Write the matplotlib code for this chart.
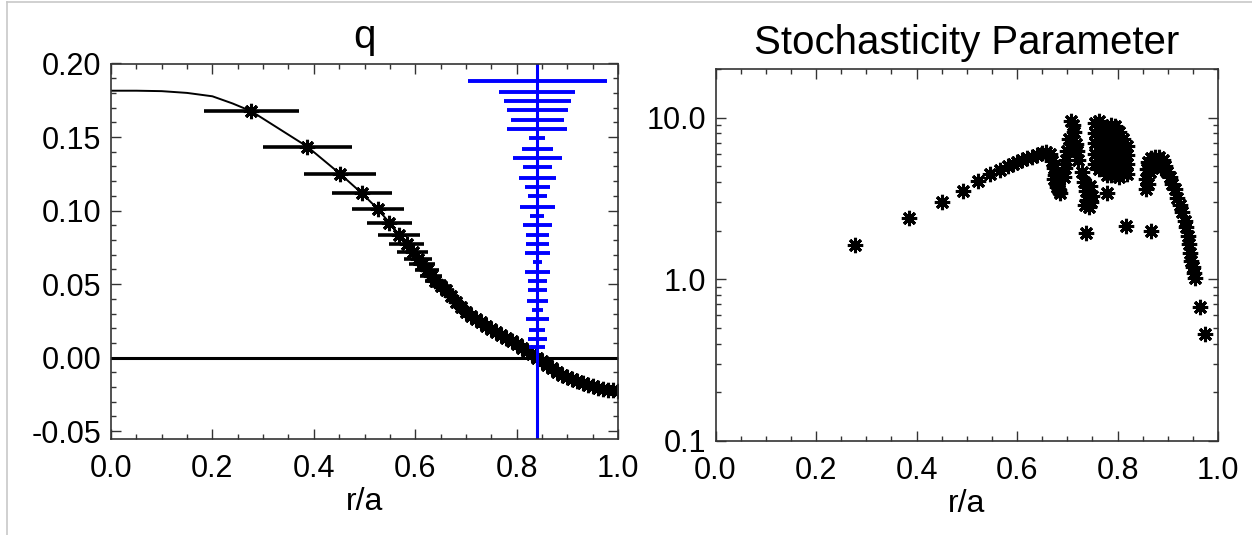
import numpy as np
import matplotlib
matplotlib.use('Agg')
import matplotlib.pyplot as plt
from matplotlib.ticker import MultipleLocator, FixedLocator, LogLocator, NullFormatter
from matplotlib.lines import Line2D

plt.rcParams['font.family'] = ['Liberation Sans', 'DejaVu Sans']

# ---- left panel: q profile ----
# smooth q line in the core (no measurement points there)
core_x = [0.0, 0.05, 0.10, 0.15, 0.20, 0.24]
core_y = [0.1815, 0.1815, 0.1812, 0.1800, 0.1777, 0.1728]

# measured points with horizontal error bars
q_x = [0.277, 0.387, 0.451, 0.495, 0.527, 0.549, 0.568, 0.583, 0.595, 0.605,
       0.614, 0.623, 0.631, 0.640, 0.650, 0.660, 0.670, 0.680, 0.690, 0.700,
       0.710, 0.720, 0.730, 0.740, 0.750, 0.760, 0.770, 0.780, 0.790, 0.800,
       0.810, 0.820, 0.830, 0.840, 0.850, 0.860, 0.870, 0.880, 0.890, 0.900,
       0.910, 0.920, 0.930, 0.940, 0.950, 0.960, 0.970, 0.980, 0.990, 1.000]
q_y = [0.1675, 0.1435, 0.1252, 0.1117, 0.1008, 0.0917, 0.0835, 0.0772, 0.0721, 0.0672,
       0.0635, 0.0595, 0.0557, 0.0523, 0.0490, 0.0457, 0.0420, 0.0380, 0.0345, 0.0310,
       0.0285, 0.0262, 0.0240, 0.0215, 0.0192, 0.0172, 0.0152, 0.0132, 0.0112, 0.0090,
       0.0068, 0.0045, 0.0022, 0.0000, -0.0025, -0.0050, -0.0072, -0.0095, -0.0115, -0.0132,
       -0.0148, -0.0162, -0.0174, -0.0185, -0.0195, -0.0204, -0.0212, -0.0218, -0.0223, -0.0226]
q_err = [0.094, 0.088, 0.071, 0.059, 0.051, 0.045, 0.041, 0.035, 0.031, 0.028,
         0.026, 0.024, 0.022, 0.020, 0.018, 0.016, 0.014, 0.012, 0.011, 0.010,
         0.009, 0.008, 0.008, 0.007, 0.007, 0.006, 0.006, 0.006, 0.005, 0.005,
         0.005, 0.005, 0.005, 0.005, 0.005, 0.005, 0.005, 0.005, 0.005, 0.005,
         0.005, 0.005, 0.005, 0.005, 0.005, 0.005, 0.005, 0.005, 0.005, 0.005]

# q=0 location and the spread (blue bars)
q0_x = 0.841
blue_y = [0.1880, 0.1806, 0.1745, 0.1684, 0.1613, 0.1552, 0.1491, 0.1419, 0.1356, 0.1295,
          0.1223, 0.1162, 0.1101, 0.1027, 0.0966, 0.0905, 0.0836, 0.0772, 0.0711, 0.0651,
          0.0579, 0.0518, 0.0457, 0.0385, 0.0324, 0.0264, 0.0191, 0.0130, 0.0069]
blue_hw = [0.137, 0.075, 0.066, 0.060, 0.052, 0.059, 0.016, 0.030, 0.049, 0.028,
           0.037, 0.024, 0.019, 0.034, 0.014, 0.029, 0.022, 0.022, 0.025, 0.009,
           0.025, 0.019, 0.019, 0.020, 0.011, 0.022, 0.016, 0.019, 0.016]

# ---- right panel: stochasticity parameter ----
s_x = [0.277, 0.386, 0.450, 0.492, 0.523, 0.546, 0.566, 0.583, 0.592, 0.600,
       0.610, 0.620, 0.630, 0.640, 0.650, 0.658, 0.665, 0.670, 0.674, 0.676,
       0.680, 0.684, 0.685, 0.673, 0.679,
       0.707, 0.711, 0.713, 0.703, 0.707, 0.717, 0.700, 0.710, 0.697, 0.695,
       0.693, 0.720, 0.722,
       0.730, 0.733, 0.737, 0.740, 0.735, 0.743, 0.747, 0.750, 0.745, 0.738,
       0.755, 0.755, 0.755, 0.755, 0.755,
       0.763, 0.763, 0.763, 0.763, 0.763, 0.763,
       0.771, 0.771, 0.771, 0.771, 0.771,
       0.779, 0.779, 0.779, 0.779, 0.779, 0.779,
       0.787, 0.787, 0.787, 0.787, 0.787, 0.787,
       0.795, 0.795, 0.795, 0.795, 0.795, 0.795,
       0.803, 0.803, 0.803, 0.803, 0.803, 0.803,
       0.811, 0.811, 0.811, 0.811, 0.811,
       0.819, 0.819, 0.819, 0.819,
       0.780, 0.817, 0.867,
       0.857, 0.857, 0.858, 0.861, 0.867, 0.875, 0.883, 0.890, 0.861, 0.865,
       0.871, 0.879, 0.887, 0.894, 0.899, 0.904, 0.909, 0.914, 0.919, 0.924,
       0.929, 0.934, 0.937, 0.940, 0.943, 0.945, 0.947, 0.950, 0.952, 0.955,
       0.964, 0.975]
s_y = [1.62, 2.40, 2.99, 3.54, 4.08, 4.49, 4.77, 5.00, 5.15, 5.30,
       5.45, 5.60, 5.75, 5.90, 6.05, 6.10, 5.95, 5.40, 4.90, 4.40,
       3.90, 3.55, 3.40, 4.20, 3.70,
       9.6, 9.0, 8.1, 7.4, 7.0, 6.9, 6.2, 6.5, 5.5, 4.9,
       4.3, 6.2, 5.5,
       4.6, 4.0, 3.5, 3.1, 2.9, 2.8, 3.0, 3.3, 3.8, 1.93,
       9.3, 8.0, 7.0, 6.0, 5.2,
       9.5, 8.3, 7.2, 6.2, 5.4, 4.8,
       8.6, 7.5, 6.5, 5.6, 4.9,
       8.8, 7.6, 6.6, 5.8, 5.0, 4.4,
       9.0, 7.8, 6.8, 5.9, 5.1, 4.4,
       8.9, 7.7, 6.7, 5.8, 5.0, 4.4,
       8.2, 7.2, 6.3, 5.5, 4.8, 4.3,
       7.4, 6.6, 5.8, 5.1, 4.5,
       6.7, 5.9, 5.2, 4.5,
       3.4, 2.14, 1.99,
       3.6, 4.2, 4.8, 5.3, 5.6, 5.7, 5.7, 5.5, 3.9, 4.6,
       5.0, 5.1, 4.9, 5.0, 4.6, 4.3, 3.9, 3.6, 3.2, 2.9,
       2.6, 2.3, 2.1, 1.85, 1.65, 1.45, 1.3, 1.2, 1.1, 1.02,
       0.67, 0.457]

star = (8, 2, 0)
W, H = 1252, 535
fig = plt.figure(figsize=(W / 100, H / 100), dpi=100)

def px(x0, x1, y0, y1):
    return [x0 / W, 1 - y1 / H, (x1 - x0) / W, (y1 - y0) / H]

def style(ax):
    for s in ax.spines.values():
        s.set_color('#333333')
        s.set_linewidth(1.2)
    ax.tick_params(which='both', direction='in', top=True, right=True,
                   colors='#333333', labelcolor='black', labelsize=22)
    ax.tick_params(which='major', length=7, width=1.0, pad=7)
    ax.tick_params(which='minor', length=3.5, width=1.0)
    ax.tick_params(axis='x', which='major', pad=11)
    ax.set_xlim(0, 1)
    ax.xaxis.set_major_locator(MultipleLocator(0.2))
    ax.xaxis.set_minor_locator(MultipleLocator(0.05))
    ax.xaxis.set_major_formatter(plt.FuncFormatter(lambda v, p: '%.1f' % v))
    ax.set_xlabel('r/a', fontsize=23, labelpad=2)

# left
ax = fig.add_axes(px(111, 618, 63.5, 438.5))
style(ax)
ax.set_ylim(-0.055, 0.20)
ax.yaxis.set_major_locator(MultipleLocator(0.05))
ax.yaxis.set_minor_locator(MultipleLocator(0.01))
ax.yaxis.set_major_formatter(plt.FuncFormatter(lambda v, p: '%.2f' % v))
ax.plot(core_x + q_x, core_y + q_y, color='k', lw=1.4)
ax.errorbar(q_x, q_y, xerr=q_err, fmt='none', ecolor='k', elinewidth=2.6, capsize=0)
ax.plot(q_x, q_y, ls='none', marker=star, ms=11, mec='k', mew=2.2)
ax.axhline(0, color='k', lw=2.2)
ax.axvline(q0_x, color='#0000ff', lw=2.2)
bx = np.array(blue_hw)
ax.hlines(blue_y, q0_x - bx, q0_x + bx, color='#0000ff', lw=2.8)
ax.set_title('q', fontsize=29, pad=11)

# right
ax2 = fig.add_axes(px(715.5, 1218, 69, 441))
style(ax2)
ax2.set_yscale('log')
ax2.set_ylim(0.1, 20)
ax2.yaxis.set_major_locator(FixedLocator([0.1, 1.0, 10.0]))
ax2.yaxis.set_major_formatter(plt.FuncFormatter(lambda v, p: '%.1f' % v))
ax2.yaxis.set_minor_locator(LogLocator(base=10, subs=np.arange(2, 10)))
ax2.yaxis.set_minor_formatter(NullFormatter())
ax2.plot(s_x, s_y, ls='none', marker=star, ms=11, mec='k', mew=2.2)
ax2.set_title('Stochasticity Parameter', fontsize=29, pad=11)

# thin frame of the original screenshot
fig.add_artist(Line2D([7 / W, 7 / W], [0, 1 - 2 / H], color='#c8c8c8', lw=1.2))
fig.add_artist(Line2D([7 / W, 1], [1 - 2 / H, 1 - 2 / H], color='#c8c8c8', lw=1.2))

fig.savefig('out.png', dpi=100)
